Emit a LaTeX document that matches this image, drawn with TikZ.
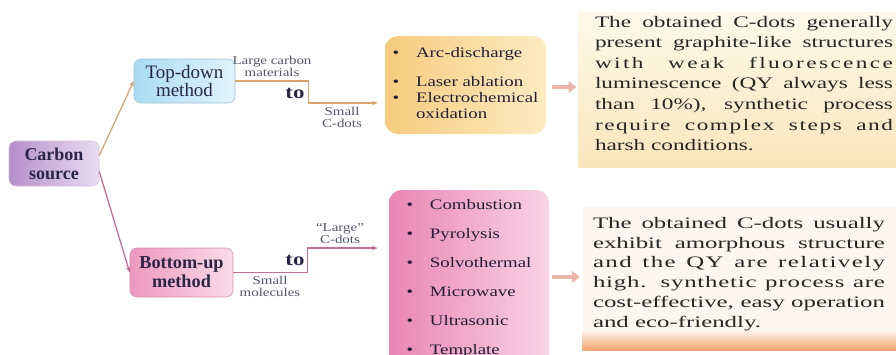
\documentclass[tikz,border=0pt]{standalone}
\usepackage{fontspec}
\setmainfont{Liberation Serif}
\newfontfamily\widefont{Liberation Serif}[FakeStretch=1.45]
\newfontfamily\widerfont{Liberation Serif}[FakeStretch=1.55]
\newfontfamily\listfont{Liberation Serif}[FakeStretch=1.3]
\newfontfamily\lblfont{Liberation Serif}[FakeStretch=1.25]
\usetikzlibrary{arrows.meta, calc, positioning}

\definecolor{srcdark}{HTML}{B48FCB}
\definecolor{srclight}{HTML}{EBDDF2}
\definecolor{tddark}{HTML}{A9DBF3}
\definecolor{tdlight}{HTML}{E2F4FC}
\definecolor{budark}{HTML}{EE97BE}
\definecolor{bulight}{HTML}{FADCE9}
\definecolor{arcdark}{HTML}{F6CC7E}
\definecolor{arclight}{HTML}{FCEBC2}
\definecolor{pinkdark}{HTML}{E985B5}
\definecolor{pinklight}{HTML}{F9D3E4}
\definecolor{notetop}{HTML}{FEF9EA}
\definecolor{notebot}{HTML}{F9E6BC}
\definecolor{bunotefill}{HTML}{FEF5EE}
\definecolor{bandorange}{HTML}{F2A46E}
\definecolor{tdline}{HTML}{D9A36E}
\definecolor{buline}{HTML}{C76B97}
\definecolor{salmon}{HTML}{E49A8C}
\definecolor{inkblue}{HTML}{2A2648}
\definecolor{lblgray}{HTML}{55566A}
\definecolor{bodyink}{HTML}{262626}

\begin{document}
\begin{tikzpicture}[
  srcbox/.style={rounded corners=5pt, left color=srcdark, right color=srclight,
                 draw=srcdark!60!white, thin, minimum width=2.25cm,
                 minimum height=1.125cm, align=center, text=inkblue,
                 font=\fontsize{12.8}{13.5}\selectfont\bfseries},
  mbox/.style={rounded corners=5pt, thin, minimum height=1.15cm,
               align=center, text=inkblue},
  lbox/.style={rounded corners=9pt, inner sep=0pt, text=inkblue!80!black,
               font=\listfont\fontsize{10.3}{11.4}\selectfont},
  ntxt/.style={inner sep=0pt, align=justify, text=bodyink},
  lbl/.style={font=\lblfont\fontsize{8.5}{8.5}\selectfont, text=lblgray,
              align=center, inner sep=1pt},
  tolbl/.style={font=\lblfont\fontsize{13}{13}\selectfont\bfseries,
                text=inkblue, inner sep=1pt},
  arr/.style={-{Stealth[length=4pt, width=3.2pt]}, line width=0.9pt},
  fat/.style={salmon!75, line width=3.3pt,
              -{Triangle[length=5.5pt, width=8pt]}},
]
  \useasboundingbox (0,0) rectangle (22.4,-8.85);

  %% ── Source ──
  \node[srcbox] (src) at (1.35, -4.0875) {Carbon\\source};

  %% ══════════════════════════════════════════════════════
  %% Methods
  \node[mbox, left color=tddark, right color=tdlight, draw=tddark!70!gray,
        minimum width=2.525cm, minimum height=1.1cm,
        font=\fontsize{13.5}{12.1}\selectfont] (td) at (4.6125, -2.025)
    {Top-down\\method};
  \node[mbox, left color=budark, right color=bulight, draw=budark!70!gray,
        minimum width=2.575cm, minimum height=1.225cm,
        font=\fontsize{13}{13.4}\selectfont\bfseries] (bu) at (4.5375, -6.8125)
    {Bottom-up\\method};

  %% ══════════════════════════════════════════════════════
  %% Routes (lists)
  \node[lbox, left color=arcdark, right color=arclight,
        minimum width=4.025cm, minimum height=2.45cm] (tdlist) at (11.6375, -2.125)
    {\begin{tabular}{@{}l@{\hspace{0.42cm}}l@{}}
       \textbullet & Arc-discharge\\[9.2pt]
       \textbullet & Laser ablation\\
       \textbullet & Electrochemical\\
                   & oxidation
     \end{tabular}};
  \node[lbox, left color=pinkdark, right color=pinklight,
        minimum width=4.0cm, minimum height=4.45cm] (bulist) at (11.725, -6.975)
    {\begin{tabular}{@{}l@{\hspace{0.42cm}}l@{}}
       \textbullet & Combustion\\[9.2pt]
       \textbullet & Pyrolysis\\[9.2pt]
       \textbullet & Solvothermal\\[9.2pt]
       \textbullet & Microwave\\[9.2pt]
       \textbullet & Ultrasonic\\[9.2pt]
       \textbullet & Template
     \end{tabular}};

  %% ══════════════════════════════════════════════════════
  %% Notes
  \node[top color=notetop, bottom color=notebot, inner sep=0pt,
        minimum width=8.05cm, minimum height=3.875cm] (tdnote) at (18.475, -2.2375) {};
  \node[ntxt, text width=7.45cm,
        font=\widefont\fontsize{11.4}{14.6}\selectfont] (tdtext) at (18.6, -2.0875)
    {The obtained C-dots generally\linebreak
     present graphite-like structures\linebreak
     {\addfontfeature{LetterSpace=15}with weak fluorescence}\linebreak
     luminescence (QY always less\linebreak
     than 10\%), synthetic process\linebreak
     {\addfontfeature{LetterSpace=10}require complex steps and}\linebreak
     harsh conditions.};

  \node[fill=bunotefill, inner sep=0pt,
        minimum width=7.925cm, minimum height=3.575cm] (bunote) at (18.5375, -6.9625) {};
  \shade[top color=bunotefill, bottom color=bandorange]
    ($(bunote.south west)+(0,0.5)$) rectangle (bunote.south east);
  \node[ntxt, text width=7.3cm,
        font=\widerfont\fontsize{11.4}{14}\selectfont] (butext) at (18.475, -6.85)
    {The obtained C-dots usually\linebreak
     exhibit amorphous structure\linebreak
     {\addfontfeature{LetterSpace=9}and the QY are relatively}\linebreak
     {\addfontfeature{LetterSpace=5}high. synthetic process are}\linebreak
     cost-effective, easy operation\linebreak
     and eco-friendly.};

  %% ══════════════════════════════════════════════════════
  %% ═══ CONNECTORS ═══

  %% Source → methods
  \draw[arr, tdline] ($(src.east)+(0,0.2)$) -- (td.west);
  \draw[arr, buline] ($(src.east)+(0,-0.2)$) -- (bu.west);

  %% Top-down: large materials to small dots
  \draw[arr, tdline, shorten >=5pt] (td.east) -- ++(1.825,0)
    |- ($(tdlist.west)+(0,-0.45)$);
  \node[lbl] (bigmat) at (6.8, -1.65) {Large carbon\\materials};
  \node[tolbl] (tdto) at (7.375, -2.325) {to};
  \node[lbl] (smdots) at (8.55, -2.925) {Small\\C-dots};

  %% Bottom-up: small molecules to large dots
  \draw[arr, buline, shorten >=8pt] (bu.east) -- ++(1.85,0)
    |- ($(bulist.west)+(0,0.775)$);
  \node[lbl] (lgdots) at (8.5, -5.85) {“Large”\\C-dots};
  \node[tolbl] (buto) at (7.375, -6.5) {to};
  \node[lbl] (smmol) at (6.75, -7.15) {Small\\molecules};

  %% Lists → notes
  \coordinate (tdout) at ($(tdlist.east)+(0,-0.05)$);
  \coordinate (buout) at ($(bulist.east)+(0,0.05)$);
  \draw[fat, shorten <=4pt, shorten >=1pt] (tdout) -- (tdout -| tdnote.west);
  \draw[fat, shorten <=2pt, shorten >=2pt] (buout) -- (buout -| bunote.west);
\end{tikzpicture}
\end{document}
